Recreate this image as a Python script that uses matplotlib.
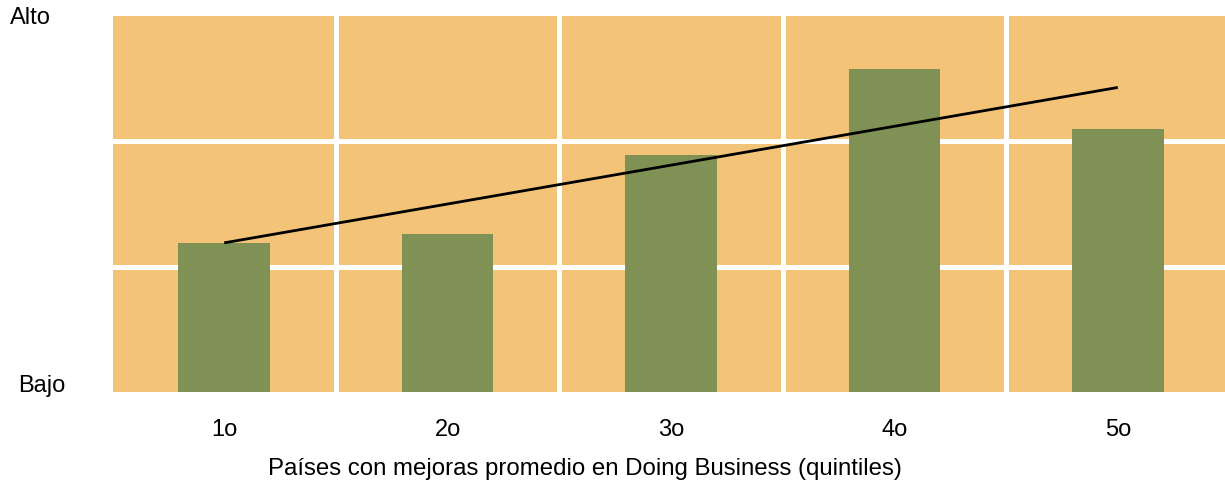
import matplotlib
matplotlib.use("Agg")
import matplotlib.pyplot as plt

plt.rcParams['font.family'] = ['Liberation Sans', 'DejaVu Sans']

categories = ["1o", "2o", "3o", "4o", "5o"]
values = [1.19, 1.26, 1.89, 2.58, 2.10]
trend_x = [0, 4]
trend_y = [1.19, 2.43]
y_labels = ["Bajo", "Alto"]
xlabel = "Países con mejoras promedio en Doing Business (quintiles)"

fig = plt.figure(figsize=(12.25, 4.85), dpi=100)
ax = fig.add_axes([112.5/1225, 92/485, 1117/1225, (393-17)/485])
ax.set_facecolor("#F3C477")
x = list(range(len(categories)))
ax.bar(x, values, width=0.41, color="#7F9155", zorder=3)
ax.plot(trend_x, trend_y, color="black", lw=2, zorder=4, solid_capstyle='butt')

for yv in [1, 2]:
    ax.axhline(yv, color="white", lw=3.6, zorder=2)
for xv in [0.5, 1.5, 2.5, 3.5]:
    ax.axvline(xv, color="white", lw=3.6, zorder=2)

ax.set_xlim(-0.5, 4.5)
ax.set_ylim(0, 3)
for s in ax.spines.values():
    s.set_visible(False)
ax.set_yticks([])
ax.set_xticks(x)
ax.set_xticklabels(categories, fontsize=17)
ax.tick_params(axis='x', length=0, pad=19)

fig.text(585/1225, 1 - 469/485, xlabel, fontsize=17.3, ha='center', va='center')
fig.text(10/1225, 1 - 18/485, y_labels[1], fontsize=17, ha='left', va='center')
fig.text(18/1225, 1 - 386/485, y_labels[0], fontsize=17, ha='left', va='center')

fig.savefig("out.png", dpi=100)
